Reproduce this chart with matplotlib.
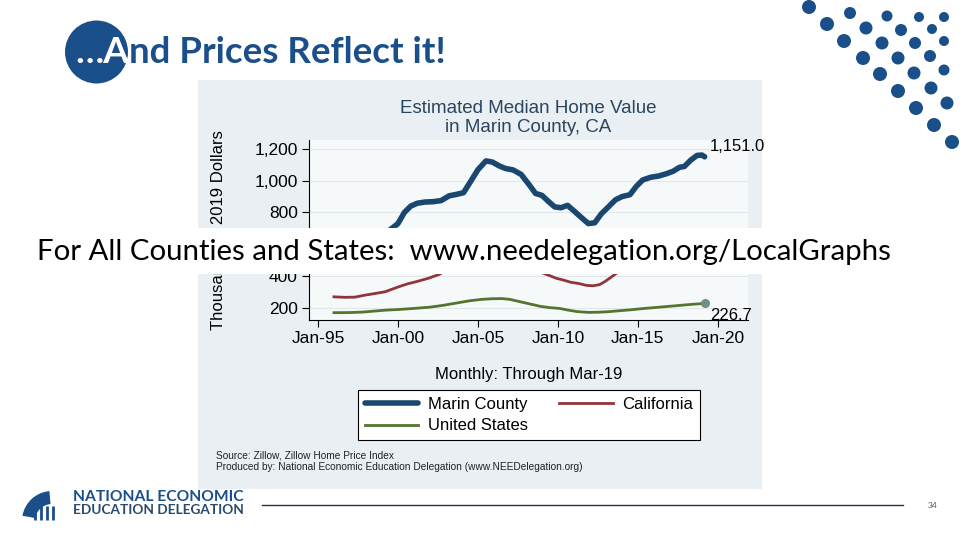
import matplotlib
matplotlib.use('Agg')
import matplotlib.pyplot as plt
from matplotlib import patches
from matplotlib.ticker import FuncFormatter

# ---------------- data ----------------
marin_years = [1996.0, 1996.5, 1997.0, 1997.5, 1998.0, 1998.5, 1999.0, 1999.5, 2000.0, 2000.4,
               2000.8, 2001.2, 2001.7, 2002.2, 2002.7, 2003.2, 2003.7, 2004.1, 2004.6, 2005.0,
               2005.5, 2005.9, 2006.3, 2006.7, 2007.2, 2007.7, 2008.2, 2008.6, 2009.0, 2009.4,
               2009.8, 2010.2, 2010.6, 2011.0, 2011.5, 2011.9, 2012.3, 2012.7, 2013.1, 2013.6,
               2014.0, 2014.5, 2014.9, 2015.3, 2015.8, 2016.3, 2016.8, 2017.2, 2017.6, 2017.9,
               2018.3, 2018.7, 2019.0, 2019.17]
marin_values = [575, 580, 590, 605, 625, 645, 665, 690, 730, 800,
                840, 858, 866, 868, 875, 905, 915, 925, 1005, 1070,
                1125, 1118, 1095, 1078, 1068, 1040, 975, 920, 908, 870,
                835, 830, 845, 810, 765, 730, 735, 790, 830, 880,
                900, 912, 965, 1005, 1022, 1030, 1045, 1060, 1085, 1090,
                1130, 1160, 1162, 1151.0]

ca_years = [1996.0, 1996.7, 1997.3, 1997.9, 1998.5, 1999.2, 2000.0, 2000.6, 2001.2, 2001.9,
            2002.6, 2003.3, 2004.0, 2004.7, 2005.4, 2006.0, 2006.6, 2007.2, 2007.8, 2008.4,
            2009.0, 2009.4, 2009.9, 2010.3, 2010.8, 2011.3, 2011.8, 2012.2, 2012.6, 2012.9,
            2013.3, 2013.7, 2014.3, 2015.0, 2015.7, 2016.4, 2017.1, 2017.8, 2018.5, 2019.17]
ca_values = [268, 265, 266, 278, 288, 300, 330, 350, 365, 385,
             410, 460, 530, 600, 650, 665, 650, 610, 540, 470,
             420, 405, 385, 375, 360, 352, 340, 338, 345, 362,
             390, 420, 450, 470, 490, 505, 525, 545, 560, 555]

us_years = [1996.0, 1997.0, 1997.8, 1998.5, 1999.2, 2000.0, 2001.0, 2002.0, 2002.8, 2003.6,
            2004.4, 2005.2, 2005.9, 2006.5, 2007.0, 2007.6, 2008.3, 2008.9, 2009.5, 2010.1,
            2010.6, 2011.2, 2011.9, 2012.5, 2013.1, 2013.8, 2014.4, 2015.2, 2016.0, 2016.8,
            2017.6, 2018.4, 2019.17]
us_values = [168, 169, 172, 178, 184, 188, 195, 203, 214, 228,
             242, 252, 256, 257, 252, 238, 222, 208, 200, 195,
             185, 175, 170, 171, 174, 180, 185, 193, 200, 207,
             214, 221, 226.7]

series_labels = ['Marin County', 'California', 'United States']
x_tick_years = [1995, 2000, 2005, 2010, 2015, 2020]
x_tick_labels = ['Jan-95', 'Jan-00', 'Jan-05', 'Jan-10', 'Jan-15', 'Jan-20']
y_ticks = [200, 400, 600, 800, 1000, 1200]

# ---------------- figure ----------------
W, H = 960, 540
fig = plt.figure(figsize=(9.6, 5.4), dpi=100)
fig.patch.set_facecolor('white')
renderer = fig.canvas.get_renderer()

SLIDE = ['Lato', 'DejaVu Sans']
CHART = ['Liberation Sans', 'DejaVu Sans']
BLUE = '#1b4f8a'

bg = fig.add_axes([0, 0, 1, 1], zorder=0)
bg.set_xlim(0, W); bg.set_ylim(H, 0); bg.axis('off')


def fit(axx, x, y, s, width, **kw):
    t = axx.text(x, y, s, **kw)
    bb = t.get_window_extent(renderer)
    t.set_fontsize(t.get_fontsize() * width / bb.width)
    return t

# chart image panel
bg.add_patch(patches.Rectangle((198, 80), 564, 409, facecolor='#e9eff2', lw=0))

# slide title: white part on the circle, blue remainder right after it
bg.add_patch(patches.Circle((96.5, 52), 31.5, facecolor=BLUE, lw=0, zorder=1))
probe = fit(bg, 75, 63, '\u2026And Prices Reflect it!', 370, family=SLIDE, fontweight='bold',
            va='baseline', ha='left', fontsize=30)
tsize = probe.get_fontsize()
probe.remove()
head = bg.text(75, 63, '\u2026A', family=SLIDE, fontweight='bold', color='white',
               va='baseline', ha='left', fontsize=tsize, zorder=3)
hb = head.get_window_extent(renderer)
bg.text(75 + hb.width, 63, 'nd Prices Reflect it!', family=SLIDE, fontweight='bold',
        color=BLUE, va='baseline', ha='left', fontsize=tsize, zorder=2)

# decorative dots top-right
dots = [(809, 7, 7), (850, 13, 6), (887, 16, 5.5), (919, 17, 5), (944, 17, 5),
        (827, 24, 7), (866, 28, 6.5), (901, 30, 6), (932, 29, 5), (944, 41, 5),
        (844, 41, 7), (882, 43, 6.5), (915, 43, 6), (863, 58, 7), (898, 58, 6.5),
        (930, 56, 6), (944, 70, 5.5), (880, 74, 7), (914, 73, 6.5), (898, 91, 7),
        (931, 88, 6.5), (947, 103, 6.5), (916, 108, 7), (934, 125, 7), (952, 142, 7)]
for cx, cy, r in dots:
    bg.add_patch(patches.Circle((cx, cy), r, facecolor=BLUE, lw=0))

# footer
bg.add_patch(patches.Wedge((52, 521), 30, 190, 265, width=13, facecolor=BLUE, lw=0))
for lx in [35, 41, 47, 53]:
    bg.plot([lx, lx], [506, 520], color=BLUE, lw=2, solid_capstyle='butt')
fit(bg, 73, 497, 'NATIONAL ECONOMIC', 170, family=SLIDE, fontweight='bold', color=BLUE,
    va='center', ha='left', fontsize=10)
fit(bg, 73, 510, 'EDUCATION DELEGATION', 170, family=SLIDE, fontweight='bold', color='#2b4a6c',
    va='center', ha='left', fontsize=10)
bg.plot([262, 903], [505, 505], color='#1f3550', lw=1)
bg.text(933, 505, '34', family=SLIDE, fontsize=6, color='#555555', ha='center', va='center')

# source notes
bg.text(216, 456, 'Source: Zillow, Zillow Home Price Index', family=CHART, fontsize=7.3,
        color='#222222', va='center')
bg.text(216, 467, 'Produced by: National Economic Education Delegation (www.NEEDelegation.org)',
        family=CHART, fontsize=7.3, color='#222222', va='center')

# ---------------- chart ----------------
ax = fig.add_axes([309 / W, 1 - 320 / H, 439 / W, 180 / H], zorder=5)
ax.set_facecolor('#f6f9fa')
ax.set_xlim(1994.44, 2021.88)
ax.set_ylim(122, 1257)

mline, = ax.plot(marin_years, marin_values, color='#1a476f', lw=4.0,
                 solid_capstyle='round', solid_joinstyle='round', zorder=4)
cline, = ax.plot(ca_years, ca_values, color='#90353b', lw=2.0, zorder=3)
uline, = ax.plot(us_years, us_values, color='#55752f', lw=2.0, zorder=3)
ax.plot(us_years[-1:], us_values[-1:], 'o', color='#6e8f84', ms=5.5, zorder=5)

ax.annotate(f'{marin_values[-1]:,.1f}', xy=(marin_years[-1], marin_values[-1]),
            xytext=(5, 10), textcoords='offset pixels', fontsize=12, family=CHART,
            va='center', ha='left', annotation_clip=False)
ax.annotate(f'{us_values[-1]:,.1f}', xy=(us_years[-1], us_values[-1]),
            xytext=(5, -12), textcoords='offset pixels', fontsize=12, family=CHART,
            va='center', ha='left', annotation_clip=False)

ax.set_xticks(x_tick_years)
ax.set_xticklabels(x_tick_labels)
ax.set_yticks(y_ticks)
ax.yaxis.set_major_formatter(FuncFormatter(lambda v, p: f'{int(v):,}'))
ax.tick_params(axis='both', direction='out', length=5, width=0.8, labelsize=12.5, pad=3)
for lab in ax.get_xticklabels() + ax.get_yticklabels():
    lab.set_family(CHART)
for s in ['top', 'right']:
    ax.spines[s].set_visible(False)
for s in ['left', 'bottom']:
    ax.spines[s].set_linewidth(0.8)
ax.yaxis.grid(True, color='#e2e7ea', lw=0.8)
ax.set_axisbelow(True)

ax.set_title('Estimated Median Home Value\nin Marin County, CA', family=CHART, fontsize=13.5,
             color='#2a4560', pad=6, linespacing=1.1)
ax.set_ylabel('Thousands of 2019 Dollars', family=CHART, fontsize=12)
ax.yaxis.set_label_coords(-0.19, 0.5)
ax.set_xlabel('Monthly: Through Mar-19', family=CHART, fontsize=12)
ax.xaxis.set_label_coords(0.5, -0.26)

leg = ax.legend([mline, uline, cline], [series_labels[0], series_labels[2], series_labels[1]],
                ncol=2, loc='upper left', bbox_to_anchor=(358 / W, 1 - 390 / H),
                bbox_transform=fig.transFigure, frameon=True, fancybox=False,
                edgecolor='black', facecolor='white', framealpha=1,
                prop={'family': CHART, 'size': 12}, handlelength=3.2, handletextpad=0.55,
                columnspacing=1.9, borderpad=0.42, labelspacing=0.38, borderaxespad=0)
leg.get_frame().set_linewidth(0.8)

# ---------------- overlay band ----------------
top = fig.add_axes([0, 0, 1, 1], zorder=10)
top.set_xlim(0, W); top.set_ylim(H, 0); top.axis('off')
top.patch.set_alpha(0)
top.add_patch(patches.Rectangle((0, 228), W, 46, facecolor='white', lw=0))
fit(top, 37, 252, 'For All Counties and States:  www.needelegation.org/LocalGraphs', 854,
    family=SLIDE, color='black', va='center', ha='left', fontsize=18)

fig.savefig('out.png', dpi=100, facecolor='white')
